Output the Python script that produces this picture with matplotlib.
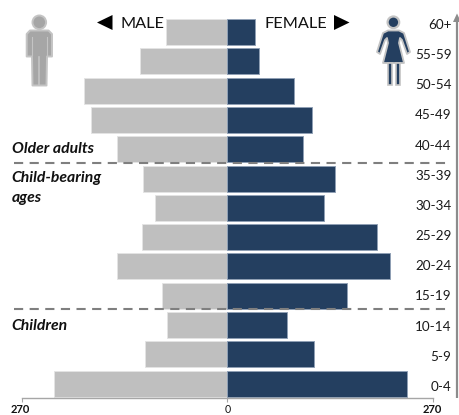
import matplotlib
matplotlib.use("Agg")
import matplotlib.pyplot as plt
from matplotlib.patches import Circle, Polygon
from matplotlib.transforms import ScaledTranslation

W, H = 459, 415
ages = ["0-4", "5-9", "10-14", "15-19", "20-24", "25-29", "30-34", "35-39",
        "40-44", "45-49", "50-54", "55-59", "60+"]
male = [228, 109, 79, 86, 145, 113, 95, 111, 145, 180, 189, 115, 81]
female = [236, 114, 79, 157, 214, 197, 127, 142, 99, 111, 87, 42, 36]
x_limit = 270
x_tick_labels = ["270", "0", "270"]
group_labels = ["Older adults", "Child-bearing\nages", "Children"]
side_labels = ["MALE", "FEMALE"]

NAVY = "#243F60"
LIGHT = "#BFBFBF"
LINE = "#7F7F7F"
plt.rcParams["font.family"] = ["Lato", "Open Sans", "DejaVu Sans"]

fig = plt.figure(figsize=(W / 100, H / 100), dpi=100)

# axes spanning x 22.2..432.6 px, y 17.4..398.3 px
ax = fig.add_axes([22.2 / W, 1 - 398.3 / H, 410.4 / W, 380.9 / H])
y = list(range(len(ages)))
ax.barh(y, [-m for m in male], height=0.89, color=LIGHT, edgecolor="#E4E4E4", linewidth=0.7)
ax.barh(y, female, height=0.89, color=NAVY, edgecolor="#8FA0B5", linewidth=0.7)
ax.set_xlim(-x_limit, x_limit)
ax.set_ylim(-0.5, len(ages) - 0.5)
for s in ["top", "left", "right"]:
    ax.spines[s].set_visible(False)
ax.spines["bottom"].set_color("#A6A6A6")
ax.spines["bottom"].set_linewidth(1.0)
ax.set_yticks([])
ax.set_xticks([-x_limit, 0, x_limit])
ax.set_xticklabels(x_tick_labels, fontsize=8.0, fontweight="bold", color="#111111")
ax.get_xticklabels()[1].set_fontweight("normal")
ax.get_xticklabels()[1].set_fontsize(7.6)
ax.tick_params(axis="x", length=3.2, width=0.8, color="#A6A6A6", pad=1.0)
lbl = ax.get_xticklabels()[0]
lbl.set_transform(lbl.get_transform() + ScaledTranslation(-2.0 / 100, 0, fig.dpi_scale_trans))

# age labels use their own spacing (30.17 px), which differs from the bars (29.3 px)
lab_ax = fig.add_axes(ax.get_position(), facecolor="none")
lab_ax.set_ylim((387 - 398.3) / 30.17, (387 - 17.4) / 30.17)
lab_ax.set_xlim(0, 1)
lab_ax.axis("off")
for yi, a in zip(y, ages):
    lab_ax.annotate(a, (1, yi), xycoords=("figure fraction", "data"),
                    xytext=(-7.5 * 0.72, 0), textcoords="offset points",
                    ha="right", va="center", fontsize=9.7, color="#1A1A1A",
                    annotation_clip=False)

# full-figure overlay in pixels
ov = fig.add_axes([0, 0, 1, 1], facecolor="none")
ov.set_xlim(0, W)
ov.set_ylim(H, 0)
ov.axis("off")

for yy in (163, 309.3):
    ov.plot([14, 451], [yy, yy], color=LINE, lw=1.5, dashes=(4.4, 3.1))

# right arrow axis
ov.plot([457, 457], [398, 20], color="#8C8C8C", lw=1.6, solid_capstyle="butt")
ov.add_patch(Polygon([[453, 22], [457, 13.5], [461, 22]], closed=True, color="#8C8C8C", lw=0))

# headers
ov.text(121, 24.5, side_labels[0], fontsize=11.7, color="#111111", ha="left", va="center")
ov.text(264.5, 24.5, side_labels[1], fontsize=11.7, color="#111111", ha="left", va="center")
ov.add_patch(Polygon([[97, 22.5], [112.5, 15], [112.5, 30]], closed=True, color="black", lw=0))
ov.add_patch(Polygon([[349.5, 22.5], [334, 15], [334, 30]], closed=True, color="black", lw=0))

# group labels
lab = dict(fontsize=11.3, fontweight="bold", fontstyle="italic", color="#111111", ha="left", va="center")
ov.text(11.5, 149, group_labels[0], **lab)
ov.text(11.5, 188, group_labels[1], linespacing=1.5, **lab)
ov.text(11.5, 326, group_labels[2], **lab)

# male icon
GR = "#A6A6A6"; GO = "#C4C4C4"
ov.add_patch(Circle((39.3, 22.3), 6.8, fc=GR, ec=GO, lw=1.4))
male_body = [[30, 30.5], [48.5, 30.5], [52, 34], [52, 56.5], [47, 56.5], [46.5, 85.5], [32.5, 85.5], [32, 56.5], [26.7, 56.5], [26.7, 34]]
ov.add_patch(Polygon(male_body, closed=True, fc=GR, ec=GO, lw=1.4, joinstyle="round"))
ov.plot([39.4, 39.4], [57, 85], color=GO, lw=1.2)
ov.plot([32.3, 32.3], [37, 55], color=GO, lw=0.8)
ov.plot([46.5, 46.5], [37, 55], color=GO, lw=0.8)

# female icon
ov.add_patch(Circle((393.4, 22.3), 5.8, fc=NAVY, ec=GO, lw=1.6))
dress = [[388, 30.5], [399, 30.5], [404, 33], [410, 52], [407, 54], [402, 40], [400, 38], [399, 43], [404, 63],
         [383, 63], [388, 43], [387, 38], [385, 40], [380, 54], [377, 52], [383, 33]]
ov.add_patch(Polygon(dress, closed=True, fc=NAVY, ec=GO, lw=1.3, joinstyle="round"))
ov.add_patch(Polygon([[387.5, 63], [391.5, 63], [391.5, 85], [387.5, 85]], closed=True, fc=NAVY, ec=GO, lw=1.2))
ov.add_patch(Polygon([[395.5, 63], [399.5, 63], [399.5, 85], [395.5, 85]], closed=True, fc=NAVY, ec=GO, lw=1.2))

fig.savefig("out.png", dpi=100, facecolor="white")
